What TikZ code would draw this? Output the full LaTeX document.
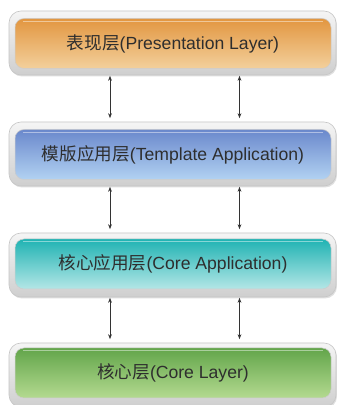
\documentclass[tikz,border=0pt]{standalone}
\usepackage{fontspec}
\setmainfont{Liberation Sans}
\newfontfamily\cjk{Noto Sans CJK SC}
\usetikzlibrary{arrows.meta,shadows}
\definecolor{txt}{HTML}{2E2E2E}
\definecolor{orTop}{HTML}{E29640}
\definecolor{orBot}{HTML}{F3D09C}
\definecolor{blTop}{HTML}{6A88CC}
\definecolor{blBot}{HTML}{B2D2F2}
\definecolor{tlTop}{HTML}{1FB3B3}
\definecolor{tlBot}{HTML}{B4E6E6}
\definecolor{grTop}{HTML}{62A54A}
\definecolor{grBot}{HTML}{B4DA90}
\tikzset{
  frame/.style={rounded corners=12pt, minimum width=327pt, minimum height=64pt,
    top color=gray!8, bottom color=gray!38, draw=gray!45, line width=0.6pt,
    drop shadow={shadow xshift=1pt, shadow yshift=-1.5pt, opacity=0.25}},
  layer/.style={rounded corners=9pt, minimum width=316pt, minimum height=50pt,
    draw=white!60!gray, line width=0.5pt, font=\fontsize{17.6}{20}\selectfont, text=txt,
    path picture={\draw[white, opacity=0.45, line width=1pt]
      ([xshift=8pt,yshift=-3pt]path picture bounding box.north west) --
      ([xshift=-8pt,yshift=-3pt]path picture bounding box.north east);}},
  arr/.style={{Stealth[length=5pt,width=3.8pt]}-{Stealth[length=5pt,width=3.8pt]},
    line width=1pt, draw=black!80, shorten <=0.5pt, shorten >=3.5pt}
}
\begin{document}
\begin{tikzpicture}[x=1pt,y=1pt]
\useasboundingbox (0,0) rectangle (337,405);
\fill[white] (0,0) rectangle (337,405);
% frames
\node[frame] (f1) at (172.5,362) {};
\node[frame] (f2) at (172.5,251) {};
\node[frame] (f3) at (172.5,140) {};
\node[frame] (f4) at (172.5,30) {};
% layers
\node[layer, top color=orTop, bottom color=orBot] (l1) at (173,361.5) {{\cjk 表现层}(Presentation Layer)};
\node[layer, top color=blTop, bottom color=blBot] (l2) at (173,250.5) {{\cjk 模版应用层}(Template Application)};
\node[layer, top color=tlTop, bottom color=tlBot] (l3) at (173,141) {{\cjk 核心应用层}(Core Application)};
\node[layer, top color=grTop, bottom color=grBot] (l4) at (173,32) {{\cjk 核心层}(Core Layer)};
% connectors
\foreach \a/\b in {f1/f2,f2/f3,f3/f4}{
  \draw[arr] ([xshift=-62.5pt]\a.south) -- ([xshift=-62.5pt]\b.north);
  \draw[arr] ([xshift=67pt]\a.south) -- ([xshift=67pt]\b.north);
}
\end{tikzpicture}
\end{document}
